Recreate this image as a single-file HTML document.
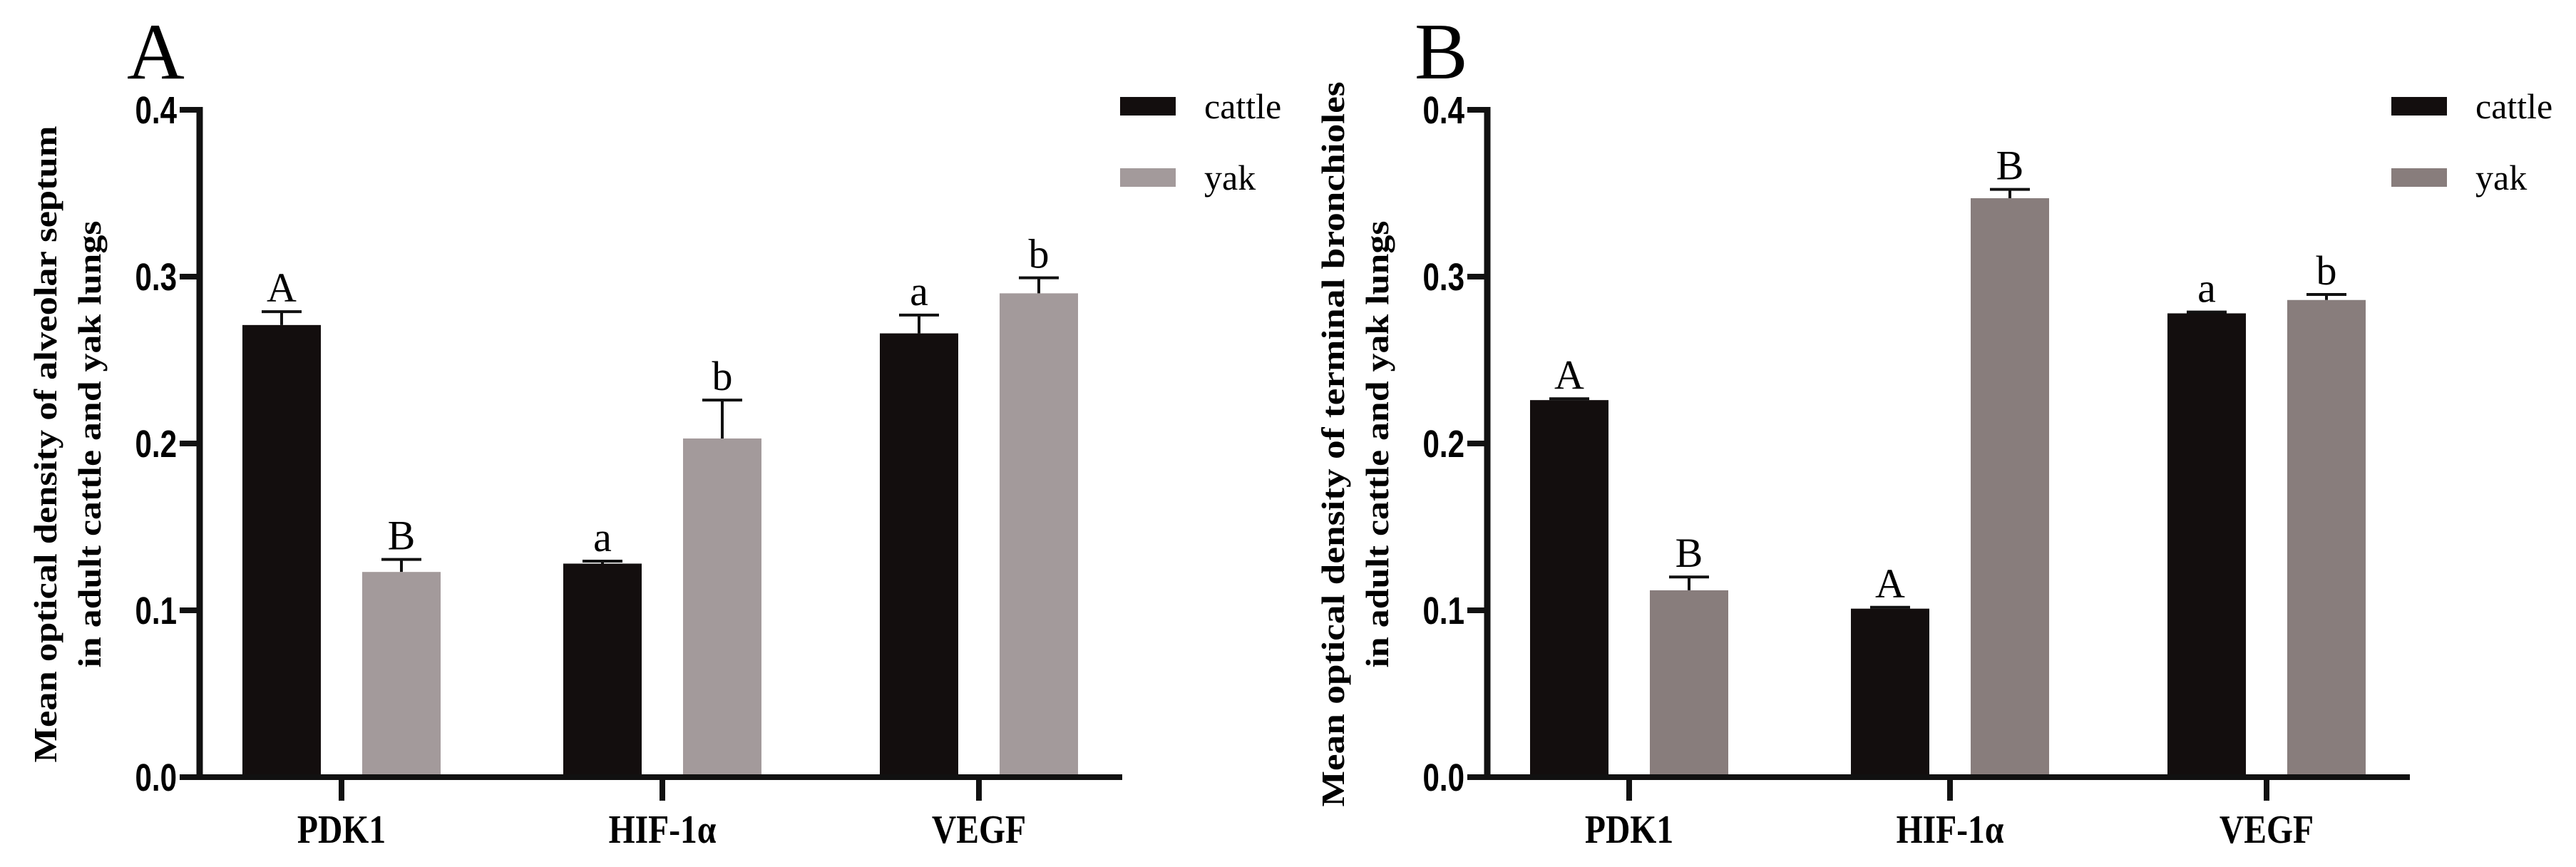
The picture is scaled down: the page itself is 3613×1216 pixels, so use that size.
<!DOCTYPE html>
<html><head><meta charset="utf-8"><style>
html,body{margin:0;padding:0;background:#fff;}
svg{display:block;}
</style></head><body>
<svg id="chart" width="3613" height="1216" viewBox="0 0 3613 1216" xmlns="http://www.w3.org/2000/svg"></svg>
<script>
const categories = ["PDK1", "HIF-1\u03b1", "VEGF"];
const seriesNames = ["cattle", "yak"];
const yTicks = [0.0, 0.1, 0.2, 0.3, 0.4];
const tickLabels = ["0.0", "0.1", "0.2", "0.3", "0.4"];
const aCattle = [0.271, 0.128, 0.266];
const aCattleErr = [0.008, 0.0015, 0.011];
const aYak = [0.123, 0.203, 0.290];
const aYakErr = [0.0075, 0.023, 0.0093];
const aCattleSig = ["A", "a", "a"];
const aYakSig = ["B", "b", "b"];
const bCattle = [0.226, 0.101, 0.278];
const bCattleErr = [0.0008, 0.0008, 0.0008];
const bYak = [0.112, 0.347, 0.286];
const bYakErr = [0.008, 0.0053, 0.0033];
const bCattleSig = ["A", "A", "a"];
const bYakSig = ["B", "B", "b"];

const NS = "http://www.w3.org/2000/svg";
const svg = document.getElementById("chart");
function mk(tag, attrs, parent, text) {
  const e = document.createElementNS(NS, tag);
  for (const k in attrs) e.setAttribute(k, attrs[k]);
  if (text !== undefined) e.textContent = text;
  (parent || svg).appendChild(e);
  return e;
}

function panel(id, x0, letter, cattle, cattleErr, yak, yakErr, cSig, ySig, yakColor, title1, title2, t1len, legendX) {
  const g = mk("g", {});
  
  
  const yBase = 1090, yTop = 154, vmax = 0.4;
  const y = v => yBase - (v / vmax) * (yBase - yTop);
  const groupOffsets = [199, 649, 1093];
  const cx = i => x0 + groupOffsets[i];
  const bw = 110, off = 84;

  const pl = mk("text", {x: x0 - 102, y: 110, "font-family": "Liberation Serif, serif", "font-size": 112}, g, letter);
  
  

  const series = [[cattle, cattleErr, cSig, "#130e0e", -off, "cattle"], [yak, yakErr, ySig, yakColor, off, "yak"]];
  series.forEach(s => {
    const [vals, errs, sigs, col, dx, nm] = s;
    vals.forEach((v, i) => {
      const bx = cx(i) + dx;
      const r = mk("rect", {x: bx - bw / 2, y: y(v), width: bw, height: yBase - y(v), fill: col}, g);
      
      
      const et = y(v + errs[i]);
      const el = mk("path", {d: `M${bx} ${y(v)}V${et}M${bx - 28} ${et}H${bx + 28}`, stroke: "#111", "stroke-width": 4, fill: "none"}, g);
      
      
      const st = mk("text", {x: bx, y: et - 14, "text-anchor": "middle", "font-family": "Liberation Serif, serif", "font-size": 58}, g, sigs[i]);
      
      
    });
  });

  const ya = mk("line", {x1: x0, y1: yTop - 4, x2: x0, y2: yBase + 4, stroke: "#111", "stroke-width": 9}, g);
  
  
  yTicks.forEach((t, i) => {
    const tk = mk("line", {x1: x0 - 28, y1: y(t), x2: x0, y2: y(t), stroke: "#111", "stroke-width": 8}, g);
    
    
    const tl = mk("text", {x: 0, y: 0, "text-anchor": "end", "font-family": "Liberation Sans, sans-serif", "font-weight": "bold", "font-size": 54, transform: `translate(${x0 - 32} ${y(t) + 19}) scale(0.78 1)`}, g, tickLabels[i]);
    
    
  });
  const xa = mk("line", {x1: x0 - 4, y1: yBase, x2: x0 + 1294, y2: yBase, stroke: "#111", "stroke-width": 8}, g);
  
  
  categories.forEach((c, i) => {
    const tk = mk("line", {x1: cx(i), y1: yBase, x2: cx(i), y2: yBase + 33, stroke: "#111", "stroke-width": 8}, g);
    
    
    const cl = mk("text", {x: 0, y: 0, "text-anchor": "middle", "font-family": "Liberation Serif, serif", "font-weight": "bold", "font-size": 56, transform: `translate(${cx(i)} 1182) scale(0.85 1)`}, g, c);
    
    
  });
  const tg = mk("g", {transform: `translate(0 ${yBase - 467}) rotate(-90)`}, g);
  const t1 = mk("text", {x: 0, y: x0 - 201, "text-anchor": "middle", "font-family": "Liberation Serif, serif", "font-weight": "bold", "font-size": 46, textLength: t1len, lengthAdjust: "spacingAndGlyphs"}, tg, title1);
  
  
  const t2 = mk("text", {x: 0, y: x0 - 139, "text-anchor": "middle", "font-family": "Liberation Serif, serif", "font-weight": "bold", "font-size": 46, textLength: 627, lengthAdjust: "spacingAndGlyphs"}, tg, title2);
  
  
  [["#130e0e", 0], [yakColor, 1]].forEach(([col, i]) => {
    const ly = 136 + i * 100;
    const lb = mk("rect", {x: legendX, y: ly, width: 78, height: 26, fill: col}, g);
    
    
    const lt = mk("text", {x: legendX + 118, y: ly + 30, "font-family": "Liberation Serif, serif", "font-size": 50}, g, seriesNames[i]);
    
    
  });
}

panel("a", 280, "A", aCattle, aCattleErr, aYak, aYakErr, aCattleSig, aYakSig, "#a39a9b",
  "Mean optical density of alveolar septum", "in adult cattle and yak lungs", 893, 1571);
panel("b", 2086, "B", bCattle, bCattleErr, bYak, bYakErr, bCattleSig, bYakSig, "#887d7c",
  "Mean optical density of terminal bronchioles", "in adult cattle and yak lungs", 1017, 3354);
</script>
</body></html>
